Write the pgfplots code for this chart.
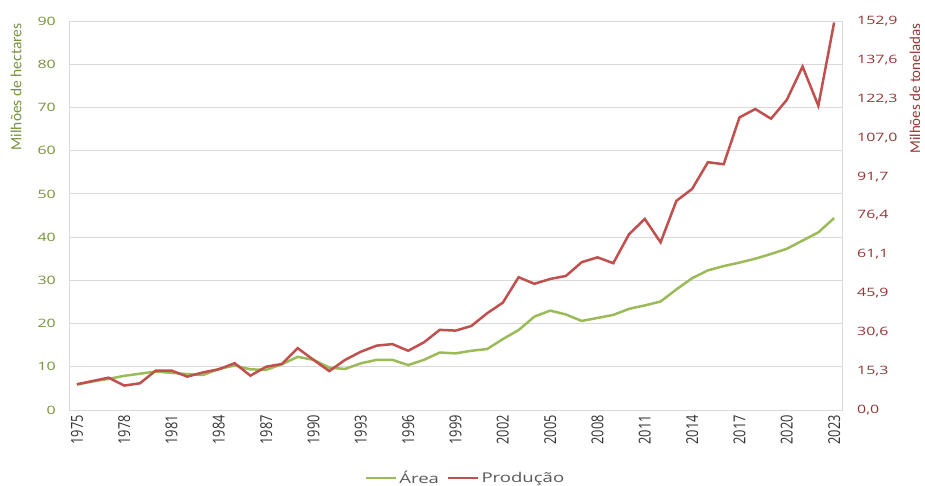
\documentclass[border=0pt]{standalone}
\usepackage{fontspec}
\usepackage{pgfplots}
\pgfplotsset{compat=1.18}
\setmainfont{Open Sans}
\newfontfamily\hfont{Open Sans}[FakeStretch=1.38]
\newfontfamily\vfont{Open Sans}[FakeStretch=0.78]
\newfontfamily\tfont{Carlito}
\definecolor{cgreen}{HTML}{9BBB59}
\definecolor{cred}{HTML}{C0504D}
\definecolor{tgreen}{HTML}{76923C}
\definecolor{tred}{HTML}{953735}
\definecolor{gridc}{HTML}{D9D9D9}
\definecolor{legc}{HTML}{595959}
\begin{document}
\begin{tikzpicture}
\path[use as bounding box] (-69bp,-76bp) rectangle (856bp,410bp);
\begin{axis}[
  at={(0,0)}, anchor=south west,
  scale only axis, width=773bp, height=389bp,
  xmin=1974.5, xmax=2023.5, ymin=0, ymax=90,
  axis line style={gridc, line width=0.8bp},
  xtick={1975,1978,1981,1984,1987,1990,1993,1996,1999,2002,2005,2008,2011,2014,2017,2020,2023},
  xticklabels={1975,1978,1981,1984,1987,1990,1993,1996,1999,2002,2005,2008,2011,2014,2017,2020,2023},
  ytick={0,10,20,30,40,50,60,70,80,90},
  yticklabels={0,10,20,30,40,50,60,70,80,90},
  tick style={draw=none},
  ymajorgrids, grid style={gridc, line width=0.8bp},
  xticklabel style={rotate=90, anchor=east, inner xsep=5bp, inner ysep=0pt, font={\vfont\fontsize{16.5}{17}\selectfont}, text=black!80},
  yticklabel style={anchor=east, inner sep=0pt, xshift=-13bp, font={\hfont\fontsize{11.6}{12}\selectfont}, text=tgreen},
  legend style={at={(0.513,-0.175)}, anchor=center, draw=none, fill=none, legend columns=2,
    font={\hfont\fontsize{13.5}{14}\selectfont}, text=legc,
    /tikz/every even column/.append style={column sep=6bp},
    inner sep=0pt},
  legend cell align=left,
  legend image code/.code={\draw[#1, line width=2.5bp] (0bp,0bp) -- (30bp,0bp);},
]
\addplot[cgreen, line width=2.5bp] coordinates {
(1975,5.9) (1976,6.6) (1977,7.2) (1978,7.9) (1979,8.4) (1980,8.9) (1981,8.6) (1982,8.3)
(1983,8.1) (1984,9.5) (1985,10.3) (1986,9.4) (1987,9.3) (1988,10.6) (1989,12.3) (1990,11.6)
(1991,9.8) (1992,9.5) (1993,10.8) (1994,11.6) (1995,11.6) (1996,10.4) (1997,11.6) (1998,13.3)
(1999,13.1) (2000,13.7) (2001,14.1) (2002,16.4) (2003,18.5) (2004,21.6) (2005,23.0) (2006,22.1)
(2007,20.6) (2008,21.3) (2009,22.0) (2010,23.4) (2011,24.2) (2012,25.1) (2013,27.9) (2014,30.5)
(2015,32.3) (2016,33.3) (2017,34.1) (2018,35.0) (2019,36.1) (2020,37.3) (2021,39.2) (2022,41.1)
(2023,44.4)};
\addlegendentry{Área}
\addlegendimage{cred, line width=2.5bp}
\addlegendentry{Produção}
\end{axis}
\begin{axis}[
  at={(0,0)}, anchor=south west,
  scale only axis, width=773bp, height=389bp,
  xmin=1974.5, xmax=2023.5, ymin=0, ymax=152.9,
  axis x line=none, axis y line*=right,
  axis line style={gridc, line width=0.8bp},
  ytick={0,15.29,30.58,45.87,61.16,76.45,91.74,107.03,122.32,137.61,152.9},
  yticklabels={{0,0},{15,3},{30,6},{45,9},{61,1},{76,4},{91,7},{107,0},{122,3},{137,6},{152,9}},
  tick style={draw=none},
  yticklabel style={anchor=west, inner sep=0pt, xshift=15bp, font={\hfont\fontsize{11.6}{12}\selectfont}, text=tred},
]
\addplot[cred, line width=2.5bp] coordinates {
(1975,10.1) (1976,11.4) (1977,12.7) (1978,9.6) (1979,10.5) (1980,15.5) (1981,15.5) (1982,13.1)
(1983,14.8) (1984,16.0) (1985,18.4) (1986,13.5) (1987,17.0) (1988,18.1) (1989,24.3) (1990,19.7)
(1991,15.3) (1992,19.7) (1993,22.9) (1994,25.3) (1995,25.9) (1996,23.3) (1997,26.6) (1998,31.5)
(1999,31.2) (2000,33.0) (2001,38.0) (2002,42.2) (2003,52.2) (2004,49.6) (2005,51.5) (2006,52.7)
(2007,58.1) (2008,60.0) (2009,57.7) (2010,69.1) (2011,75.1) (2012,65.9) (2013,82.2) (2014,86.9)
(2015,97.4) (2016,96.6) (2017,115.0) (2018,118.3) (2019,114.5) (2020,121.9) (2021,135.0) (2022,119.6)
(2023,152.3)};
\end{axis}
\node[rotate=90, text=tgreen, font={\tfont\fontsize{15.5}{16}\selectfont}, inner sep=0pt] at (-53bp,323bp) {Milhões de hectares};
\node[rotate=90, text=tred, font={\tfont\fontsize{15}{16}\selectfont}, inner sep=0pt] at (846bp,321.5bp) {Milhões de toneladas};
\end{tikzpicture}
\end{document}
